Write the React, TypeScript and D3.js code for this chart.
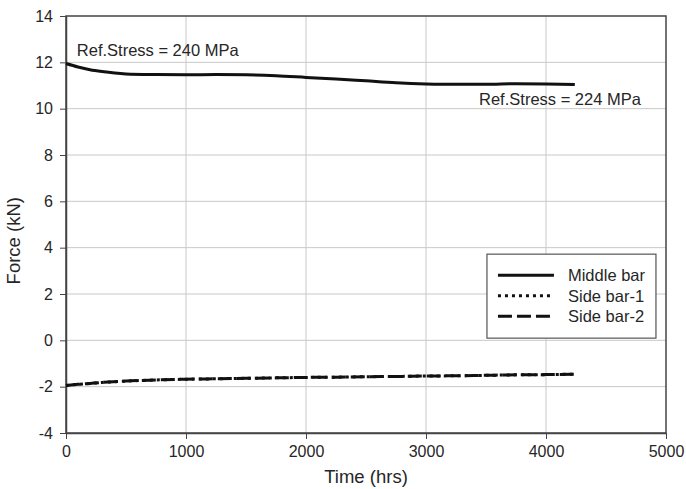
import React, { useRef, useEffect } from "react";
import * as d3 from "d3";

const W = 686;
const H = 489;
const MARGIN = { TOP: 16, RIGHT: 20, BOTTOM: 56, LEFT: 66 };
const PW = W - MARGIN.LEFT - MARGIN.RIGHT;
const PH = H - MARGIN.TOP - MARGIN.BOTTOM;

const xTicks = [0, 1000, 2000, 3000, 4000, 5000];
const yTicks = [-4, -2, 0, 2, 4, 6, 8, 10, 12, 14];

// time (hrs) samples
const hours = [0, 100, 200, 300, 500, 750, 1000, 1250, 1500, 1750, 2000, 2250, 2500, 2750, 3000, 3250, 3500, 3750, 4000, 4240];
const middleBar = [11.95, 11.8, 11.68, 11.6, 11.5, 11.47, 11.46, 11.47, 11.46, 11.42, 11.35, 11.28, 11.2, 11.12, 11.07, 11.05, 11.05, 11.08, 11.07, 11.04];
const sideBar1 = [-1.95, -1.9, -1.86, -1.82, -1.76, -1.71, -1.68, -1.66, -1.64, -1.62, -1.6, -1.59, -1.57, -1.56, -1.54, -1.53, -1.51, -1.49, -1.48, -1.46];
const sideBar2 = [-1.95, -1.9, -1.86, -1.82, -1.76, -1.71, -1.68, -1.66, -1.64, -1.62, -1.6, -1.59, -1.57, -1.56, -1.54, -1.53, -1.51, -1.49, -1.48, -1.46];

const seriesNames = ["Middle bar", "Side bar-1", "Side bar-2"];
const dashes = ["none", "3,4", "14,5"];

const FONT = "'Liberation Sans', Arial, sans-serif";
const TEXT = "#262626";

const drawChart = (element: HTMLDivElement) => {
  d3.select(element).selectAll("*").remove();

  const svg = d3
    .select(element)
    .append("svg")
    .attr("width", W)
    .attr("height", H)
    .style("position", "fixed")
    .style("top", "0px")
    .style("left", "0px")
    .style("background", "#fff")
    .style("font-family", FONT);

  const g = svg.append("g").attr("transform", `translate(${MARGIN.LEFT}, ${MARGIN.TOP})`);

  const x = d3.scaleLinear().domain([0, 5000]).range([0, PW]);
  const y = d3.scaleLinear().domain([-4, 14]).range([PH, 0]);

  // grid
  g.selectAll(".vgrid")
    .data(xTicks.slice(1, -1))
    .enter()
    .append("line")
    .attr("x1", d => x(d))
    .attr("x2", d => x(d))
    .attr("y1", 0)
    .attr("y2", PH)
    .attr("stroke", "#c8c8c8")
    .attr("stroke-width", 1);

  g.selectAll(".hgrid")
    .data(yTicks.slice(1, -1))
    .enter()
    .append("line")
    .attr("x1", 0)
    .attr("x2", PW)
    .attr("y1", d => y(d))
    .attr("y2", d => y(d))
    .attr("stroke", "#c8c8c8")
    .attr("stroke-width", 1);

  // frame
  g.append("rect")
    .attr("x", 0)
    .attr("y", 0)
    .attr("width", PW)
    .attr("height", PH)
    .attr("fill", "none")
    .attr("stroke", "#444")
    .attr("stroke-width", 1.5);

  // axes
  const fmt = (d: d3.NumberValue) => String(d);
  const xAxis = d3.axisBottom(x).tickValues(xTicks).tickSize(6).tickSizeOuter(0).tickFormat(fmt);
  const xg = g.append("g").attr("transform", `translate(0, ${PH})`).call(xAxis);
  xg.select(".domain").attr("stroke", "#444").attr("stroke-width", 1.5);
  xg.selectAll("line").attr("stroke", "#444");
  xg.selectAll("text")
    .attr("font-family", FONT)
    .attr("font-size", 16)
    .attr("fill", TEXT)
    .attr("dy", "0.95em");

  const yAxis = d3.axisLeft(y).tickValues(yTicks).tickSize(6).tickSizeOuter(0).tickFormat(fmt);
  const yg = g.append("g").call(yAxis);
  yg.select(".domain").attr("stroke", "#444").attr("stroke-width", 1.5);
  yg.selectAll("line").attr("stroke", "#444");
  yg.selectAll("text")
    .attr("font-family", FONT)
    .attr("font-size", 16)
    .attr("fill", TEXT)
    .attr("x", -13);

  // axis titles
  g.append("text")
    .attr("x", PW / 2)
    .attr("y", PH + 50)
    .attr("text-anchor", "middle")
    .attr("font-size", 18.5)
    .attr("fill", TEXT)
    .text("Time (hrs)");

  g.append("text")
    .attr("transform", `translate(${-46}, ${y(4.3)}) rotate(-90)`)
    .attr("text-anchor", "middle")
    .attr("font-size", 18.5)
    .attr("fill", TEXT)
    .text("Force (kN)");

  // series
  const line = d3
    .line<number>()
    .x((_, i) => x(hours[i]))
    .y(d => y(d))
    .curve(d3.curveMonotoneX);

  [middleBar, sideBar1, sideBar2].forEach((vals, i) => {
    g.append("path")
      .datum(vals)
      .attr("d", line)
      .attr("fill", "none")
      .attr("stroke", "#111")
      .attr("stroke-width", 3)
      .attr("stroke-dasharray", dashes[i]);
  });

  // annotations
  g.append("text")
    .attr("x", x(90))
    .attr("y", y(12.28))
    .attr("font-size", 16.5)
    .attr("fill", TEXT)
    .text("Ref.Stress = 240 MPa");

  g.append("text")
    .attr("x", x(3442))
    .attr("y", y(10.16))
    .attr("font-size", 16.5)
    .attr("fill", TEXT)
    .text("Ref.Stress = 224 MPa");

  // legend
  const lg = g.append("g").attr("transform", `translate(${x(3508)}, ${y(3.72)})`);
  lg.append("rect")
    .attr("width", 169)
    .attr("height", 84)
    .attr("fill", "#fff")
    .attr("stroke", "#555")
    .attr("stroke-width", 1.2);

  seriesNames.forEach((name, i) => {
    const ly = 21 + i * 20.5;
    lg.append("line")
      .attr("x1", 11)
      .attr("x2", 67)
      .attr("y1", ly)
      .attr("y2", ly)
      .attr("stroke", "#111")
      .attr("stroke-width", 3)
      .attr("stroke-dasharray", dashes[i]);
    lg.append("text")
      .attr("x", 81)
      .attr("y", ly + 6)
      .attr("font-size", 16.5)
      .attr("fill", TEXT)
      .text(name);
  });
};

const App = () => {
  const chartRef = useRef<HTMLDivElement>(null);

  useEffect(() => {
    if (chartRef.current) drawChart(chartRef.current);
  }, []);

  return <div ref={chartRef}></div>;
};

export default App;
